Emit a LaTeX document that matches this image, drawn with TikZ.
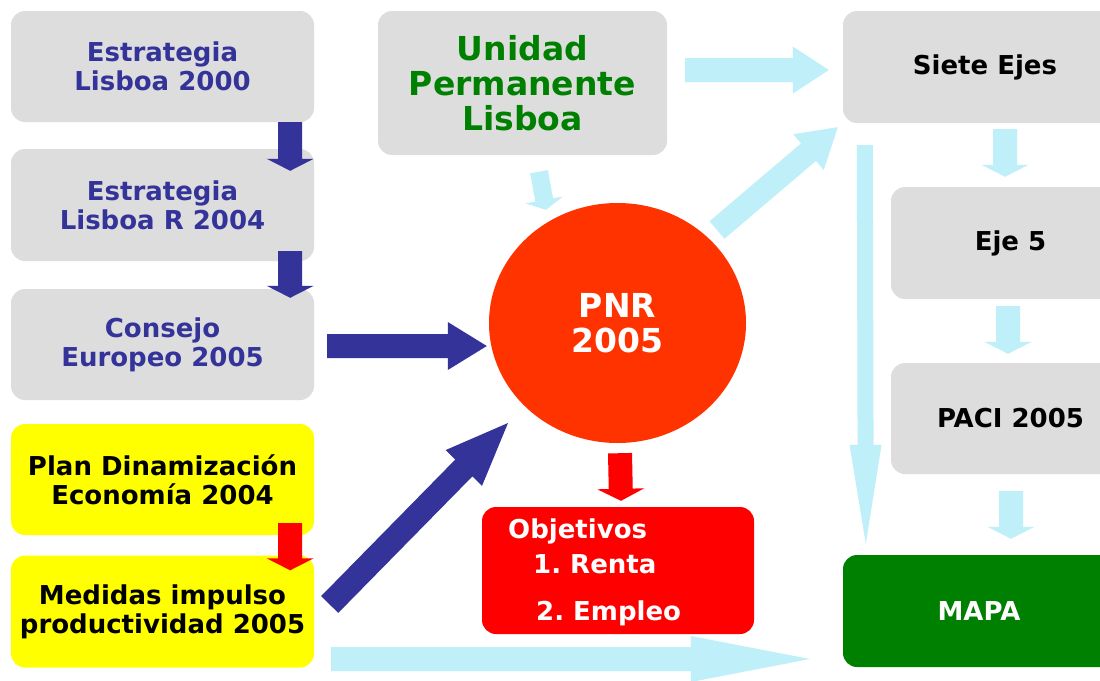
\documentclass[tikz,border=0pt]{standalone}
\usepackage{fontspec}
\setmainfont{DejaVu Sans}
\usetikzlibrary{calc,shapes.geometric}
\definecolor{boxgray}{HTML}{DDDDDD}
\definecolor{navy}{HTML}{333399}
\definecolor{dgreen}{HTML}{008000}
\definecolor{lblue}{HTML}{BFEFF9}
\definecolor{pnrred}{HTML}{FF3300}
\definecolor{objred}{HTML}{FF0000}
\definecolor{yel}{HTML}{FFFF00}
\frenchspacing
% #1 start, #2 tip, #3 half shaft, #4 half head, #5 head length, #6 style
\newcommand\blockarrow[6]{%
  \coordinate (bas) at (#1);
  \coordinate (bat) at (#2);
  \coordinate (bah) at ($(bat)!#5!(bas)$);
  \fill[#6] ($(bas)!#3!90:(bat)$) -- ($(bah)!#3!90:(bat)$) -- ($(bah)!#4!90:(bat)$) -- (bat)
    -- ($(bah)!#4!-90:(bat)$) -- ($(bah)!#3!-90:(bat)$) -- ($(bas)!#3!-90:(bat)$) -- cycle;
}
\begin{document}
\begin{tikzpicture}[x=1pt,y=-1pt,
  box/.style={rounded corners=14pt, minimum width=303pt, minimum height=111pt,
    align=center, inner sep=0pt, font=\bfseries\fontsize{26}{29}\selectfont},
  graybox/.style={box, fill=boxgray, text=black},
  bluebox/.style={graybox, text=navy},
  yelbox/.style={box, fill=yel, text=black},
  circ/.style={ellipse, minimum width=257pt, minimum height=240pt, inner sep=0pt,
    fill=pnrred, text=white, align=center, font=\bfseries\fontsize{33}{35}\selectfont},
  navyarrow/.style={fill=navy},
  redarrow/.style={fill=objred},
  lightarrow/.style={fill=lblue},
]
\fill[white] (0,0) rectangle (1100,680);
\useasboundingbox (0,0) rectangle (1100,680);

% left column
\node[bluebox] (b1) at (162.5,66.5) {Estrategia\\Lisboa 2000};
\node[bluebox, minimum height=112pt] (b2) at (162.5,205) {Estrategia\\Lisboa R 2004};
\node[bluebox] (b3) at (162.5,344.5) {Consejo\\Europeo 2005};
\node[yelbox] (b4) at (162.5,479.5) {Plan Dinamización\\Economía 2004};
\node[yelbox, minimum height=112pt] (b5) at (162.5,611.5) {Medidas impulso\\productividad 2005};

% centre
\node[graybox, minimum width=289pt, minimum height=144pt, text=dgreen,
  font=\bfseries\fontsize{33}{35}\selectfont] (upl) at (522.5,83) {Unidad\\Permanente\\Lisboa};
\node[circ] (pnr) at (617.5,323) {PNR\\2005};
\node[box, fill=objred, minimum width=272pt, minimum height=127pt] (obj) at (618,570.5) {};
\node[anchor=base west, text=white, align=left, inner sep=0pt,
  font=\bfseries\fontsize{26}{35}\selectfont] (objt) at (508,620)
  {Objetivos\\\hspace*{25pt}1. Renta\\[12pt]\hspace*{28pt}2. Empleo};

% right column
\node[graybox, minimum width=284pt, minimum height=112pt] (siete) at (985,67) {Siete Ejes};
\node[graybox, minimum width=239pt, minimum height=112pt] (eje5) at (1010.5,243) {Eje 5};
\node[graybox, minimum width=239pt, minimum height=111pt] (paci) at (1010.5,418.5) {PACI 2005};
\node[box, fill=dgreen, text=white, minimum width=272pt, minimum height=112pt] (mapa) at (979,611) {MAPA};

% arrows
\blockarrow{$(b1.south east)+(-24,0)$}{$(b2.north east)+(-24,22)$}{12pt}{23.5pt}{12pt}{navyarrow}
\blockarrow{$(b2.south east)+(-24,-10)$}{$(b3.north east)+(-24,9)$}{12pt}{23.5pt}{12pt}{navyarrow}
\blockarrow{$(b3.east)+(13,1.5)$}{$(pnr.west)+(-2,23)$}{12pt}{24pt}{39pt}{navyarrow}
\blockarrow{$(b4.south east)+(-24,-12)$}{$(b5.north east)+(-24,15)$}{12pt}{23.5pt}{12pt}{redarrow}
\blockarrow{$(b5.east)+(15.5,-7)$}{$(pnr.center)+(-109.5,100)$}{12pt}{25.5pt}{63pt}{navyarrow}
\blockarrow{$(pnr.south)+(2.5,10)$}{$(obj.north)+(3,-6)$}{12pt}{23.5pt}{12pt}{redarrow}
\blockarrow{$(upl.south)+(16.5,16.5)$}{$(pnr.north)+(-71.5,7)$}{9pt}{19pt}{10pt}{lightarrow}
\blockarrow{$(upl.east)+(18,-13)$}{$(siete.west)+(-14,3)$}{12pt}{23.5pt}{36pt}{lightarrow}
\blockarrow{$(pnr.center)+(99.5,-93)$}{$(siete.south west)+(-5,4)$}{11.5pt}{23.5pt}{38.5pt}{lightarrow}
\blockarrow{$(b5.east)+(17,47.5)$}{$(mapa.west)+(-33,48)$}{12pt}{23pt}{119pt}{lightarrow}
\blockarrow{$(siete.south west)+(22,22)$}{$(mapa.north west)+(23,-11)$}{8pt}{16pt}{99pt}{lightarrow}
\blockarrow{$(siete.south)+(20,6)$}{$(eje5.north)+(-5.5,-10)$}{12pt}{23.5pt}{12pt}{lightarrow}
\blockarrow{$(eje5.south)+(-2.5,7)$}{$(paci.north)+(-2.5,-9)$}{12pt}{23.5pt}{12pt}{lightarrow}
\blockarrow{$(paci.south)+(0.5,17)$}{$(mapa.north)+(32,-16)$}{12pt}{23.5pt}{12pt}{lightarrow}
\end{tikzpicture}
\end{document}
